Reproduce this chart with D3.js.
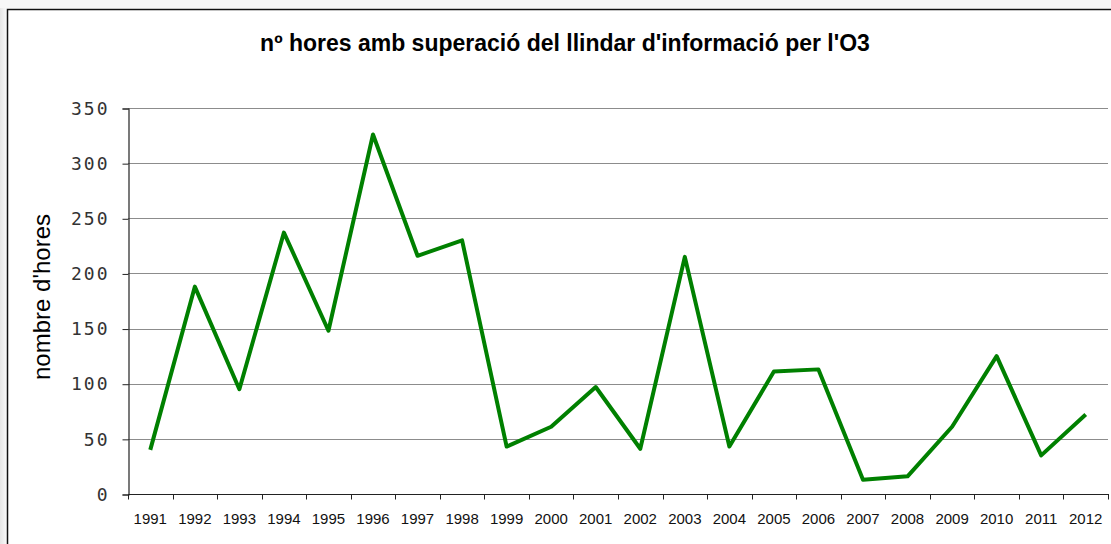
<!DOCTYPE html>
<html>
<head>
<meta charset="utf-8">
<script src="https://cdn.jsdelivr.net/npm/d3@7"></script>
<style>
  body { margin: 0; background: #fff; }
  #chart { position: absolute; left: 0; top: 0; }
</style>
</head>
<body>
<div id="chart"></div>
<script>
const years = ["1991","1992","1993","1994","1995","1996","1997","1998","1999","2000","2001",
  "2002","2003","2004","2005","2006","2007","2008","2009","2010","2011","2012"];
const hours = [40, 188, 95, 237, 148, 326, 216, 230, 43, 61, 97,
  41, 215, 43, 111, 113, 13, 16, 61, 125, 35, 72];
const yTicks = [0, 50, 100, 150, 200, 250, 300, 350];

const width = 1111, height = 544;
const margin = { left: 128, right: 3, top: 108, bottom: 50 };

const svg = d3.select('#chart').append('svg')
  .attr('width', width)
  .attr('height', height);

// faint shade on the left page edge
const grad = svg.append('defs').append('linearGradient').attr('id', 'edge');
grad.append('stop').attr('offset', '0%').attr('stop-color', '#e6e6e6');
grad.append('stop').attr('offset', '100%').attr('stop-color', '#fafafa');
svg.append('rect').attr('x', 0).attr('y', 0).attr('width', 7).attr('height', height)
  .attr('fill', 'url(#edge)');
svg.append('rect').attr('x', 0).attr('y', 0).attr('width', width).attr('height', 8)
  .attr('fill', '#f7f7f7');

// chart frame
svg.append('rect')
  .attr('x', 7.5).attr('y', 9.5)
  .attr('width', width + 10).attr('height', height + 10)
  .attr('fill', '#fff')
  .attr('stroke', '#111')
  .attr('stroke-width', 1.5);

const x = d3.scaleBand()
  .domain(years)
  .range([margin.left, width - margin.right]);

const y = d3.scaleLinear()
  .domain([0, 350])
  .range([height - margin.bottom, margin.top]);

// gridlines
svg.append('g')
  .selectAll('line')
  .data(yTicks.filter(d => d > 0))
  .enter().append('line')
  .attr('x1', margin.left).attr('x2', width - margin.right)
  .attr('y1', d => Math.round(y(d)) + 0.5).attr('y2', d => Math.round(y(d)) + 0.5)
  .attr('stroke', '#8c8c8c')
  .attr('stroke-width', 1);

// y axis
const yAxis = svg.append('g')
  .attr('transform', `translate(${margin.left + 0.5},0.5)`)
  .call(d3.axisLeft(y).tickValues(yTicks).tickSize(6));
yAxis.select('.domain').attr('stroke', '#222').attr('stroke-width', 1.2);
yAxis.selectAll('.tick line').attr('stroke', '#222');
yAxis.selectAll('text')
  .attr('x', -19)
  .attr('font-family', 'DejaVu Sans Mono, monospace')
  .attr('font-size', 18)
  .attr('letter-spacing', 2)
  .attr('fill', '#333');

// x axis with ticks at category boundaries
const xAxisG = svg.append('g')
  .attr('transform', `translate(0,${Math.round(y(0)) + 0.5})`);
xAxisG.append('line')
  .attr('x1', margin.left).attr('x2', width - margin.right + 1)
  .attr('stroke', '#222').attr('stroke-width', 1.2);
xAxisG.selectAll('.tk')
  .data(years.concat(['end']))
  .enter().append('line')
  .attr('class', 'tk')
  .attr('x1', (d, i) => Math.round(margin.left + i * x.bandwidth()) + 0.5)
  .attr('x2', (d, i) => Math.round(margin.left + i * x.bandwidth()) + 0.5)
  .attr('y1', 0).attr('y2', 5)
  .attr('stroke', '#222');
xAxisG.selectAll('.lbl')
  .data(years)
  .enter().append('text')
  .attr('class', 'lbl')
  .attr('x', d => x(d) + x.bandwidth() / 2)
  .attr('y', 29)
  .attr('text-anchor', 'middle')
  .attr('font-family', 'Liberation Sans, Arial, sans-serif')
  .attr('font-size', 15)
  .attr('fill', '#111')
  .text(d => d);

// line
const line = d3.line()
  .x((d, i) => x(years[i]) + x.bandwidth() / 2)
  .y(d => y(d));

svg.append('path')
  .datum(hours)
  .attr('d', line)
  .attr('fill', 'none')
  .attr('stroke', '#008000')
  .attr('stroke-width', 4)
  .attr('stroke-linejoin', 'round');

// title
svg.append('text')
  .attr('x', 565).attr('y', 51)
  .attr('text-anchor', 'middle')
  .attr('font-family', 'Liberation Sans, Arial, sans-serif')
  .attr('font-weight', 'bold')
  .attr('font-size', 23)
  .attr('fill', '#000')
  .text("nº hores amb superació del llindar d'informació per l'O3");

// y label
svg.append('text')
  .attr('transform', 'translate(50,297) rotate(-90)')
  .attr('text-anchor', 'middle')
  .attr('font-family', 'Liberation Sans, Arial, sans-serif')
  .attr('font-size', 24)
  .attr('fill', '#000')
  .text("nombre d'hores");
</script>
</body>
</html>
